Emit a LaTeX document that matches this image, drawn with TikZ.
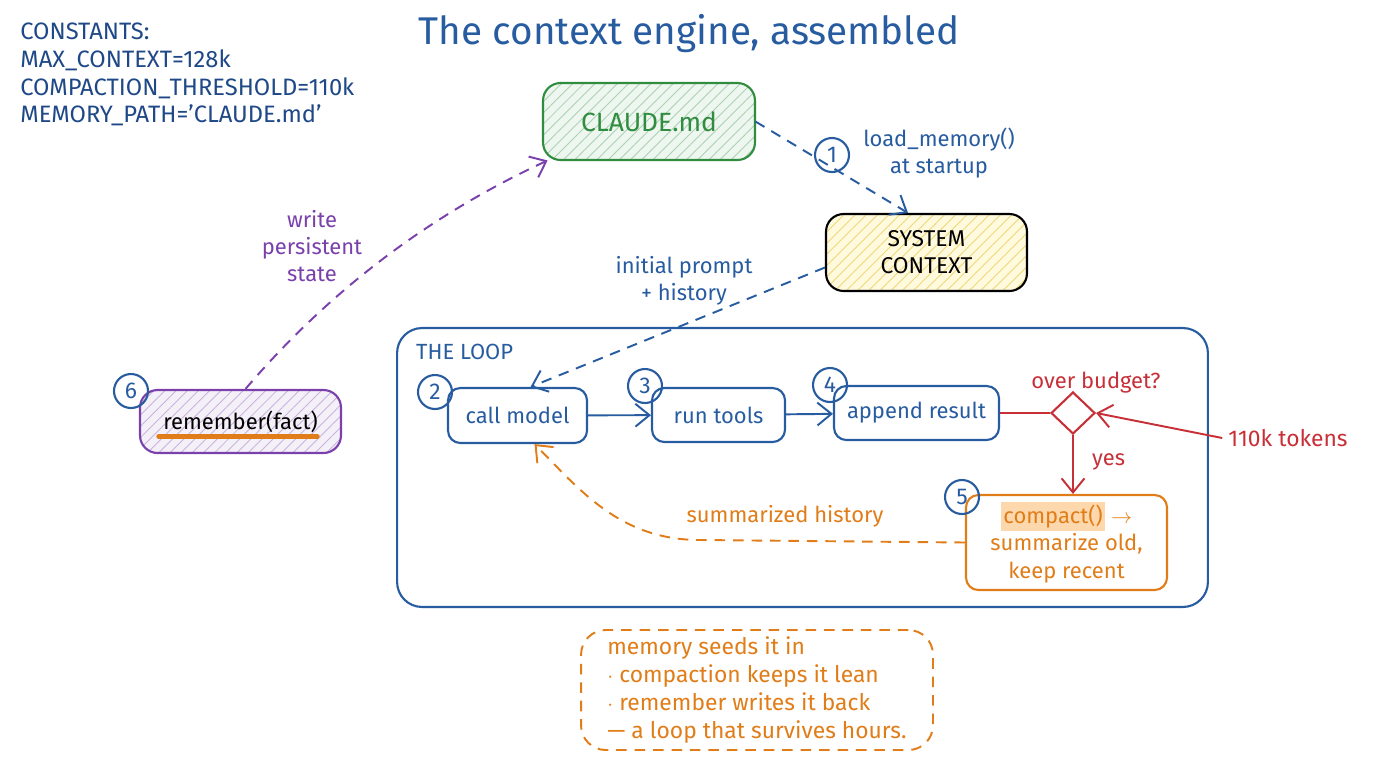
\documentclass[tikz,border=0pt]{standalone}
\usepackage{fontspec}
\setmainfont{Fira Sans}
\usetikzlibrary{arrows.meta,patterns.meta,shapes.geometric,positioning,calc}

\definecolor{inkblue}{RGB}{40,92,160}
\definecolor{deepblue}{RGB}{30,72,135}
\definecolor{leafgreen}{RGB}{48,140,62}
\definecolor{tomato}{RGB}{200,48,56}
\definecolor{amber}{RGB}{225,125,25}
\definecolor{grape}{RGB}{122,64,172}
\definecolor{butter}{RGB}{255,249,222}
\definecolor{straw}{RGB}{238,216,120}
\definecolor{peach}{RGB}{252,216,172}

\tikzset{
	stage/.style={draw=inkblue, line width=1.2pt, rounded corners=7pt, text=inkblue, font=\fontsize{12.5}{15.5}\selectfont, align=center},
	hatch/.style={preaction={fill=#1!8}, pattern={Lines[angle=45,distance=4.5pt,line width=0.5pt]}, pattern color=#1!40},
	badge/.style={draw=inkblue, line width=1.2pt, circle, minimum size=0.68cm, inner sep=0pt, text=inkblue, font=\fontsize{13}{13}\selectfont},
	flow/.style={line width=1.1pt, -{Straight Barb[length=8pt,width=13pt]}},
	dashline/.style={dash pattern=on 6pt off 4.5pt},
	lbl/.style={font=\fontsize{12.5}{15.5}\selectfont, align=center},
}

\begin{document}
\begin{tikzpicture}[x=0.02cm, y=-0.02cm]
	%%%%% START %%%%%
	\useasboundingbox[fill=white] (0,0) rectangle (1376,768);
	
	\node[text=inkblue, font=\fontsize{22}{24}\selectfont] (title) at (689,34) {The context engine, assembled};
	\node[anchor=north west, text=deepblue, align=left, inner sep=0pt, font=\fontsize{13.5}{15.7}\selectfont] (consts) at (20,23) {CONSTANTS:\\MAX\_CONTEXT=128k\\COMPACTION\_THRESHOLD=110k\\MEMORY\_PATH='CLAUDE.md'};
	
	% memory file and system context
	\node[stage, draw=leafgreen, text=leafgreen, hatch=leafgreen, rounded corners=10pt, minimum width=4.24cm, minimum height=1.54cm, font=\fontsize{15}{17}\selectfont] (claude) at (649,121.5) {CLAUDE.md};
	\node[stage, draw=black, text=black, preaction={fill=butter}, pattern={Lines[angle=45,distance=4.5pt,line width=0.5pt]}, pattern color=straw, rounded corners=10pt, minimum width=4.02cm, minimum height=1.54cm, font=\fontsize{13}{15.5}\selectfont] (sys) at (926.5,252.5) {SYSTEM\\CONTEXT};
	
	\draw[flow, dashline, inkblue] (claude.east) -- ([xshift=-0.37cm]sys.north);
	\node[badge] (n1) at (832,155) {1};
	\node[lbl, text=inkblue] (loadlbl) at (939,153) {load\_memory()\\at startup};
	
	% the loop
	\node[draw=inkblue, line width=1.2pt, rounded corners=0.5cm, minimum width=16.22cm, minimum height=5.58cm] (loop) at (802.5,467.5) {};
	\node[anchor=west, text=inkblue, font=\fontsize{12.5}{15}\selectfont] (looptitle) at (410,352) {THE LOOP};
	
	\node[stage, minimum width=2.78cm, minimum height=1.1cm] (call) at (517.5,415.5) {call model};
	\node[stage, minimum width=2.66cm, minimum height=1.08cm] (tools) at (718.5,415) {run tools};
	\node[stage, minimum width=3.3cm, minimum height=1.08cm] (append) at (916.5,413) {append result};
	\node[badge] (n2) at (435,392) {2};
	\node[badge] (n3) at (645,386) {3};
	\node[badge] (n4) at (830,385) {4};
	
	\draw[flow, inkblue] (call) -- (tools);
	\draw[flow, inkblue] (tools) -- (append);
	
	\draw[flow, dashline, inkblue] ([yshift=-0.3cm]sys.west) -- ([xshift=0.26cm]call.north);
	\node[lbl, text=inkblue] (promptlbl) at (684,281) {initial prompt\\+ history};
	
	% budget check
	\node[diamond, draw=tomato, line width=1.2pt, minimum width=0.88cm, minimum height=0.84cm, inner sep=0pt] (check) at (1073,413) {};
	\node[lbl, text=tomato] (checklbl) at (1096,383) {over budget?};
	\draw[tomato, line width=1.1pt] (append) -- (check);
	\node[lbl, text=tomato, font=\fontsize{13}{15.5}\selectfont] (tokens) at (1288,438) {110k tokens};
	\draw[flow, tomato] (tokens.west) -- (check.east);
	
	\node[stage, draw=amber, text=amber, minimum width=4.02cm, minimum height=1.9cm] (compact) at (1066.5,542.5) {{\setlength{\fboxsep}{1.5pt}\colorbox{peach}{compact()}}~$\rightarrow$\\summarize old,\\keep recent};
	\node[badge] (n5) at (962,497) {5};
	\draw[flow, tomato] (check.south) -- (check.south |- compact.north);
	\node[lbl, text=tomato, anchor=west] (yeslbl) at (1086,462) {yes};
	
	\draw[flow, dashline, amber] (compact.west) -- (700,540) .. controls (620,540) and (580,490) .. ([xshift=0.34cm]call.south);
	\node[lbl, text=amber] (sumlbl) at (785,516) {summarized history};
	
	% remember
	\node[stage, draw=grape, text=black, hatch=grape, rounded corners=10pt, minimum width=4.02cm, minimum height=1.26cm] (remember) at (240.5,421.5) {remember(fact)};
	\draw[amber, line width=2.5pt, line cap=round] ($(remember.center)+(-82,15)$) -- ($(remember.center)+(77,15)$);
	\node[badge] (n6) at (131,391) {6};
	\draw[flow, dashline, grape] ([xshift=0.1cm]remember.north) .. controls (330,290) and (430,215) .. ([xshift=0.1cm]claude.south west);
	\node[lbl, text=grape] (writelbl) at (312,246) {write\\persistent\\state};
	
	% note
	\node[draw=amber, line width=1.1pt, dashline, rounded corners=14pt, minimum width=7.04cm, minimum height=2.4cm, text=amber, align=left, font=\fontsize{13}{16}\selectfont] (note) at (757,690) {memory seeds it in\\$\cdot$ compaction keeps it lean\\$\cdot$ remember writes it back\\— a loop that survives hours.};
	
	%%%%% END %%%%%
\end{tikzpicture}
\end{document}
